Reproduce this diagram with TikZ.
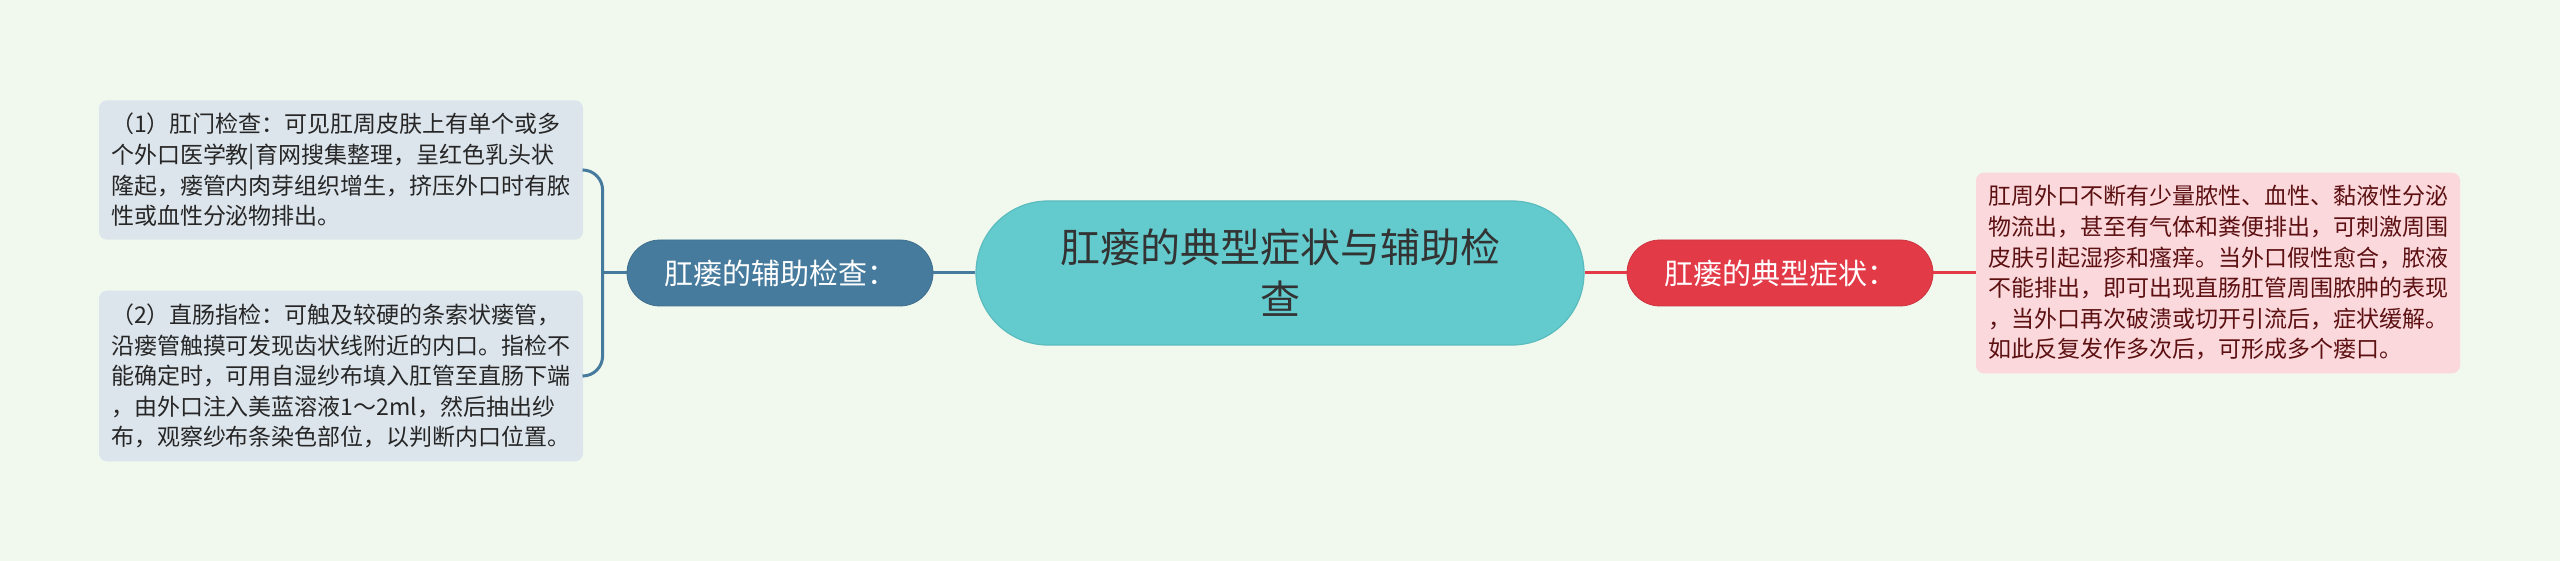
\documentclass[tikz,border=0pt]{standalone}
\usepackage{fontspec}
\newfontfamily\cjk{Noto Sans CJK SC}
\usetikzlibrary{calc}
\definecolor{bgcol}{HTML}{F1F9EF}
\definecolor{rootcol}{HTML}{63CBCD}
\definecolor{bluecol}{HTML}{467B9D}
\definecolor{redcol}{HTML}{E33A48}
\definecolor{blueleaf}{HTML}{DCE5EC}
\definecolor{redleaf}{HTML}{FAD8DB}
\definecolor{redtext}{HTML}{5C1012}
\tikzset{
  root/.style={fill=rootcol, draw=rootcol!92!black, line width=0.6pt, text=black!80,
    rounded corners=36pt, minimum width=304pt, minimum height=72pt, align=center,
    font=\cjk\fontsize{20pt}{26pt}\selectfont},
  branch/.style={rounded corners=16.5pt, minimum width=153pt, minimum height=33pt,
    text=white, font=\cjk\fontsize{14.5pt}{18pt}\selectfont},
  leaf/.style={rounded corners=4pt, text width=230pt, inner xsep=6pt, inner ysep=6.5pt,
    align=left, font=\cjk\fontsize{11.5pt}{15.3pt}\selectfont},
  link/.style={line width=1.5pt}
}
\begin{document}
\begin{tikzpicture}[x=0.5pt, y=-0.5pt]
\useasboundingbox[fill=bgcol] (0,0) rectangle (2560,561);
% centre
\node[root] (root) at (1280,273) {肛瘘的典型症状与辅助检\\查};
% left side
\node[branch, fill=bluecol, draw=bluecol!90!black] (aux) at (780,273) {肛瘘的辅助检查：};
\node[leaf, fill=blueleaf, text=black!85] (anal) at (341,170)
  {（1）肛门检查：可见肛周皮肤上有单个或多\\
   个外口医学教|育网搜集整理，呈红色乳头状\\
   隆起，瘘管内肉芽组织增生，挤压外口时有脓\\
   性或血性分泌物排出。};
\node[leaf, fill=blueleaf, text=black!85] (rectal) at (341,376)
  {（2）直肠指检：可触及较硬的条索状瘘管，\\
   沿瘘管触摸可发现齿状线附近的内口。指检不\\
   能确定时，可用自湿纱布填入肛管至直肠下端\\
   ，由外口注入美蓝溶液1～2ml，然后抽出纱\\
   布，观察纱布条染色部位，以判断内口位置。};
% right side
\node[branch, fill=redcol, draw=redcol!90!black] (symp) at (1780,273) {肛瘘的典型症状：};
\node[leaf, fill=redleaf, text=redtext] (flow) at (2218,273)
  {肛周外口不断有少量脓性、血性、黏液性分泌\\
   物流出，甚至有气体和粪便排出，可刺激周围\\
   皮肤引起湿疹和瘙痒。当外口假性愈合，脓液\\
   不能排出，即可出现直肠肛管周围脓肿的表现\\
   ，当外口再次破溃或切开引流后，症状缓解。\\
   如此反复发作多次后，可形成多个瘘口。};
\coordinate (brk) at ($(aux.west)+(-24,0)$);
\draw[link, bluecol] (root) -- (aux);
\draw[link, bluecol] (aux.west) -- (brk);
\draw[link, bluecol, rounded corners=10pt] (anal.east) -| (brk) |- (rectal.east);
\draw[link, redcol] (root) -- (symp);
\draw[link, redcol] (symp) -- (flow);
\end{tikzpicture}
\end{document}
